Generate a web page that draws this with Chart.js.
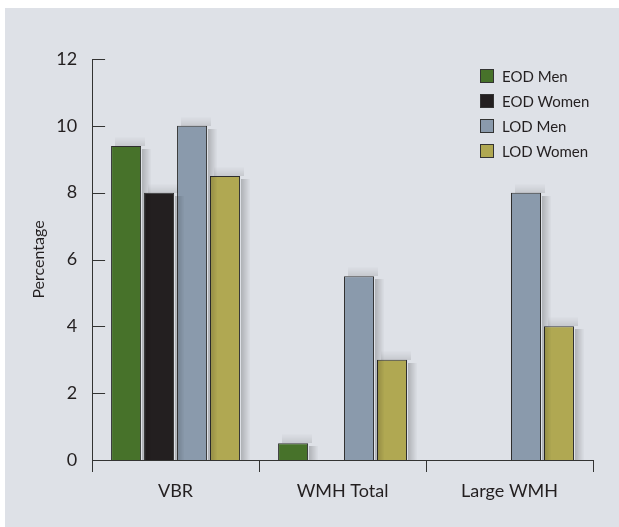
<!DOCTYPE html>
<html>
<head>
<meta charset="utf-8">
<script src="https://cdn.jsdelivr.net/npm/chart.js@4.4.0/dist/chart.umd.min.js"></script>
<style>
  html, body { margin: 0; padding: 0; background: #ffffff; }
  #box { position: absolute; left: 5px; top: 8px; width: 614px; height: 519px; background: #dee1e7; }
  #box canvas { position: absolute; left: 0; top: 0; }
  #legend { position: absolute; left: 475px; top: 55px; font-family: Lato, sans-serif; font-size: 15px; color: #231f20; }
  #legend div { height: 25px; display: flex; align-items: center; }
  #legend span.sw { display: inline-block; width: 12px; height: 12px; border: 1px solid #333; margin-right: 8px; }
</style>
</head>
<body>
<div id="box">
  <canvas id="barChart" width="614" height="519"></canvas>
  <div id="legend"></div>
</div>
<script>
document.addEventListener("DOMContentLoaded", function() {
    const categories = ['VBR', 'WMH Total', 'Large WMH'];
    const eodMen = [9.4, 0.5, null];
    const eodWomen = [8.0, 0, null];
    const lodMen = [10.0, 5.5, 8.0];
    const lodWomen = [8.5, 3.0, 4.0];
    const yTicks = [0, 2, 4, 6, 8, 10, 12];

    const font = 'Lato, sans-serif';

    const makeSet = (label, data, color) => ({
        label: label,
        data: data,
        backgroundColor: color,
        borderColor: '#2e2e2e',
        borderWidth: 1,
        borderSkipped: 'bottom',
        categoryPercentage: 0.79,
        barPercentage: 0.91
    });

    // soft shadow right of each bar, built from thin fading strips
    const shadowPlugin = {
        id: 'shadow',
        afterDatasetsDraw(chart) {
            const ctx = chart.ctx;
            ctx.save();
            chart.data.datasets.forEach((ds, i) => {
                chart.getDatasetMeta(i).data.forEach((bar, j) => {
                    if (ds.data[j] === null || ds.data[j] === 0) return;
                    const p = bar.getProps(['x', 'y', 'base', 'width'], true);
                    const right = Math.round(p.x + p.width / 2) + 1;
                    const top = Math.round(p.y);
                    const base = Math.round(p.base);
                    for (let k = 0; k < 9; k++) {
                        ctx.fillStyle = 'rgba(0,0,0,' + (0.2 * (1 - k / 9)).toFixed(3) + ')';
                        ctx.fillRect(right + k, top + 3, 1, base - top - 3);
                        ctx.fillStyle = 'rgba(0,0,0,' + (0.1 * (1 - k / 9)).toFixed(3) + ')';
                        ctx.fillRect(Math.round(p.x - p.width / 2) + 4, top - 1 - k, p.width, 1);
                    }
                });
            });
            ctx.restore();
        }
    };

    // y tick marks point into the plot
    const innerTicks = {
        id: 'innerTicks',
        afterDraw(chart) {
            const ctx = chart.ctx;
            const y = chart.scales.y;
            const left = chart.chartArea.left;
            ctx.save();
            ctx.strokeStyle = '#333';
            ctx.lineWidth = 1;
            yTicks.forEach(v => {
                const py = Math.round(y.getPixelForValue(v)) + 0.5;
                ctx.beginPath();
                ctx.moveTo(left, py);
                ctx.lineTo(left + 13, py);
                ctx.stroke();
            });
            ctx.restore();
        }
    };

    const ctx = document.getElementById('barChart').getContext('2d');
    const chart = new Chart(ctx, {
        type: 'bar',
        data: {
            labels: categories,
            datasets: [
                makeSet('EOD Men', eodMen, '#47722a'),
                makeSet('EOD Women', eodWomen, '#231f20'),
                makeSet('LOD Men', lodMen, '#8a9aac'),
                makeSet('LOD Women', lodWomen, '#b0a852')
            ]
        },
        options: {
            responsive: false,
            animation: false,
            layout: { padding: { left: 24, right: 26, top: 51, bottom: 17 } },
            plugins: {
                legend: { display: false },
                tooltip: { enabled: false }
            },
            scales: {
                x: {
                    offset: true,
                    grid: {
                        display: true,
                        offset: true,
                        drawOnChartArea: false,
                        tickLength: 12,
                        color: '#333'
                    },
                    border: { display: true, color: '#333', width: 1 },
                    ticks: { color: '#231f20', font: { family: font, size: 18 }, padding: 8 },
                    afterFit: axis => { axis.height = Math.max(axis.height, 50); }
                },
                y: {
                    min: 0,
                    max: 12,
                    afterBuildTicks: axis => { axis.ticks = yTicks.map(v => ({ value: v })); },
                    grid: { display: false },
                    border: { display: true, color: '#333', width: 1 },
                    ticks: { color: '#231f20', font: { family: font, size: 18 }, padding: 7 },
                    title: {
                        display: true,
                        text: 'Percentage',
                        color: '#231f20',
                        font: { family: font, size: 16 },
                        padding: { top: 0, bottom: 1 }
                    }
                }
            }
        },
        plugins: [shadowPlugin, innerTicks]
    });

    const legend = document.getElementById('legend');
    chart.data.datasets.forEach(ds => {
        const row = document.createElement('div');
        const sw = document.createElement('span');
        sw.className = 'sw';
        sw.style.background = ds.backgroundColor;
        row.appendChild(sw);
        row.appendChild(document.createTextNode(ds.label));
        legend.appendChild(row);
    });
});
</script>
</body>
</html>
